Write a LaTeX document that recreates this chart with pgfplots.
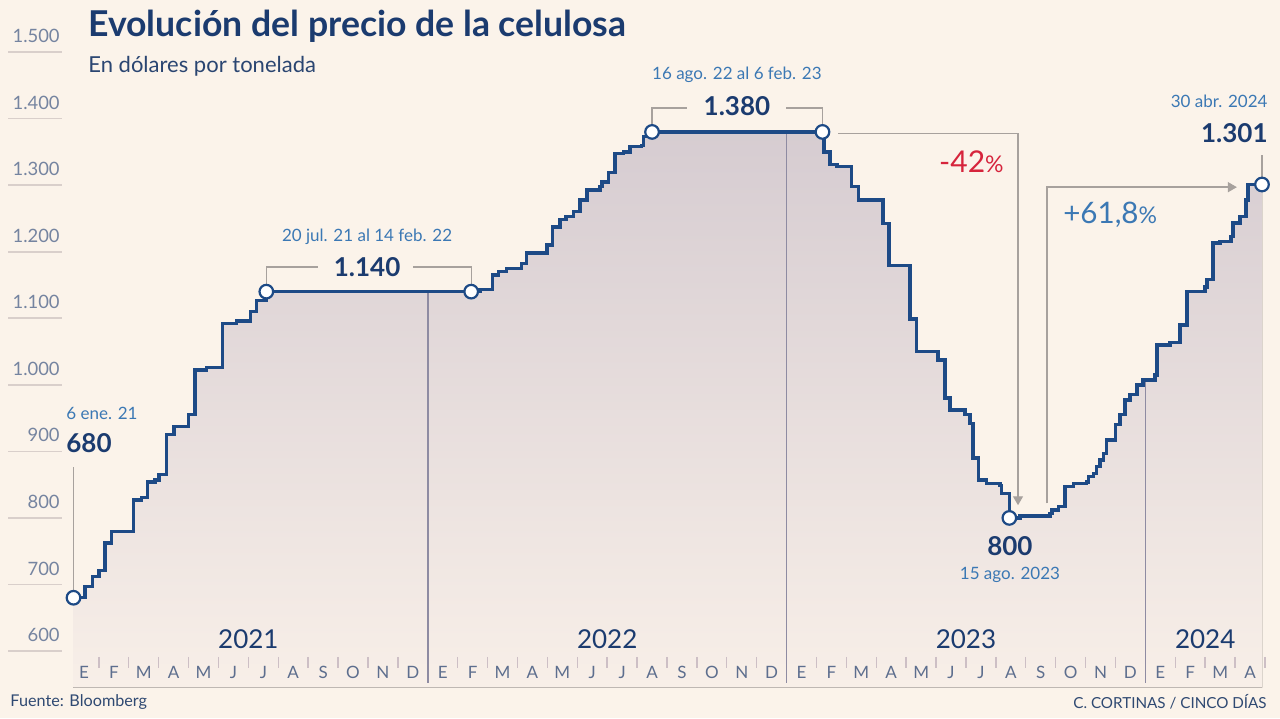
\documentclass[border=0pt]{standalone}
\usepackage{fontspec}
\setmainfont{Lato}
\usepackage{pgfplots}
\usepackage{pgfplotstable}
\pgfplotsset{compat=1.18}
\usepgfplotslibrary{fillbetween}
\usetikzlibrary{arrows.meta}

\definecolor{bgc}{HTML}{FBF3EA}
\definecolor{navy}{HTML}{1B3B6F}
\definecolor{linec}{HTML}{1D4A86}
\definecolor{annb}{HTML}{3B78B4}
\definecolor{tickc}{HTML}{7584A0}
\definecolor{monc}{HTML}{5D6E8E}
\definecolor{grayl}{HTML}{A7A19D}
\definecolor{yearl}{HTML}{8E8BA2}
\definecolor{redc}{HTML}{D6243C}
\definecolor{sepc}{HTML}{CDBFC5}
\definecolor{gridc}{HTML}{D9CFCB}
\definecolor{filltop}{HTML}{D6CCD1}
\definecolor{fillbot}{HTML}{F8EFE8}

\pgfplotstableread{
m v
0.15 680
0.54 697
0.79 712
1.01 721
1.20 762
1.43 780
2.15 827
2.43 831
2.62 854
2.88 857
3.01 865
3.27 925
3.51 937
3.99 955
4.21 1022
4.60 1026
5.13 1092
5.61 1096
6.08 1110
6.28 1127
6.60 1140
13.45 1140
13.75 1143
14.17 1165
14.36 1170
14.64 1175
15.14 1182
15.31 1198
15.98 1210
16.18 1237
16.42 1248
16.62 1253
16.87 1260
17.09 1278
17.33 1293
17.76 1298
17.82 1305
18.04 1319
18.26 1348
18.54 1350
18.76 1358
19.15 1360
19.21 1373
19.50 1380
25.20 1380
25.25 1350
25.45 1331
25.68 1328
26.18 1298
26.40 1278
27.23 1242
27.43 1179
28.13 1099
28.35 1050
29.07 1037
29.30 980
29.46 962
29.97 955
30.13 942
30.24 890
30.41 857
30.69 852
31.14 849
31.19 837
31.45 800
31.81 803
32.81 807
32.87 812
33.09 817
33.31 847
33.59 852
34.03 854
34.09 862
34.26 867
34.37 877
34.48 887
34.59 897
34.70 917
35.00 940
35.15 955
35.32 977
35.48 985
35.72 1000
35.92 1007
36.32 1015
36.39 1060
36.82 1064
37.16 1090
37.39 1140
37.99 1147
38.06 1158
38.26 1213
38.49 1215
38.86 1223
38.93 1243
39.16 1253
39.36 1278
39.43 1301
39.90 1301
}\pricedata

\newcommand\ytk[2]{%
  \draw[gridc, line width=0.8pt] (axis cs:-2.04,#1) -- (axis cs:-0.234,#1);
  \node[anchor=east, inner sep=0pt, text=tickc, font=\fontsize{9.2}{11}\selectfont] at (axis cs:-0.30,#1+24) {#2};
}
\newcommand\mon[2]{%
  \node[inner sep=0pt, text=monc, font=\fontsize{8.5}{10}\selectfont] at (axis cs:#1+0.5,568.4) {#2};
}
\newcommand\yearmonths[1]{%
  \mon{#1+0}{E}\mon{#1+1}{F}\mon{#1+2}{M}\mon{#1+3}{A}\mon{#1+4}{M}\mon{#1+5}{J}%
  \mon{#1+6}{J}\mon{#1+7}{A}\mon{#1+8}{S}\mon{#1+9}{O}\mon{#1+10}{N}\mon{#1+11}{D}%
}

\begin{document}
\begin{tikzpicture}
\fill[bgc] (0,0) rectangle (640pt,359pt);
\begin{axis}[
  at={(0,0)}, anchor=south west,
  width=640pt, height=359pt, scale only axis,
  xmin=-2.3077, xmax=40.502, ymin=499.32, ymax=1578.26,
  hide axis, clip=false,
]

% area under the curve
\addplot[draw=none, const plot, name path=price, forget plot] table[x=m, y=v] {\pricedata};
\addplot[draw=none, name path=base, forget plot] coordinates {(0.15,545) (39.90,545)};
\addplot[top color=filltop, bottom color=fillbot, draw=none, forget plot] fill between[of=price and base, on layer=main];

% year separators
\addplot[yearl, line width=0.8pt, forget plot] coordinates {(12,552) (12,1140)};
\addplot[yearl, line width=0.8pt, forget plot] coordinates {(24,552) (24,1380)};
\addplot[yearl, line width=0.8pt, forget plot] coordinates {(36,552) (36,1007)};

% y labels
\ytk{600}{600}
\ytk{700}{700}
\ytk{800}{800}
\ytk{900}{900}
\ytk{1000}{1.000}
\ytk{1100}{1.100}
\ytk{1200}{1.200}
\ytk{1300}{1.300}
\ytk{1400}{1.400}
\ytk{1500}{1.500}

% month separators
\pgfplotsinvokeforeach{1,...,11,13,14,...,23,25,26,...,35,37,38,39,40}{
  \draw[sepc, line width=0.7pt] (axis cs:#1,591) -- (axis cs:#1,574.5);
}
\yearmonths{0}
\yearmonths{12}
\yearmonths{24}
\mon{36}{E}\mon{37}{F}\mon{38}{M}\mon{39}{A}

% year labels
\node[text=navy, inner sep=0pt, font=\fontsize{13}{15}\selectfont] at (axis cs:6,618) {2021};
\node[text=navy, inner sep=0pt, font=\fontsize{13}{15}\selectfont] at (axis cs:18,618) {2022};
\node[text=navy, inner sep=0pt, font=\fontsize{13}{15}\selectfont] at (axis cs:30,618) {2023};
\node[text=navy, inner sep=0pt, font=\fontsize{13}{15}\selectfont] at (axis cs:38,618) {2024};

% title
\node[anchor=west, inner sep=0pt, text=navy, font=\fontsize{17.8}{20}\bfseries] at (axis cs:0.635,1539) {Evolución del precio de la celulosa};
\node[anchor=west, inner sep=0pt, text=navy!85!gray, font=\fontsize{11}{13}\selectfont] at (axis cs:0.635,1478) {En dólares por tonelada};

% annotation guides
\draw[grayl, line width=0.6pt] (axis cs:0.15,876) -- (axis cs:0.15,692);
\draw[grayl, line width=0.6pt] (axis cs:6.6,1150) |- (axis cs:8.33,1177);
\draw[grayl, line width=0.6pt] (axis cs:13.45,1150) |- (axis cs:11.5,1177);
\draw[grayl, line width=0.6pt] (axis cs:19.5,1388) |- (axis cs:20.67,1416);
\draw[grayl, line width=0.6pt] (axis cs:25.2,1388) |- (axis cs:23.98,1416);
\draw[grayl, line width=0.6pt] (axis cs:39.9,1345) -- (axis cs:39.9,1312);
\draw[grayl, line width=0.7pt, -{Triangle[width=5pt,length=4.5pt]}] (axis cs:25.72,1378) -| (axis cs:31.74,819);
\draw[grayl, line width=0.7pt, -{Triangle[width=5pt,length=4.5pt]}] (axis cs:32.71,822) |- (axis cs:39.06,1297);

% price line
\addplot[linec, line width=1.7pt, const plot, forget plot] table[x=m, y=v] {\pricedata};
\addplot[only marks, mark=*, mark size=3.4pt, mark options={fill=white, draw=linec, line width=1.1pt}, forget plot]
  coordinates {(0.15,680) (6.6,1140) (13.45,1140) (19.5,1380) (25.2,1380) (31.45,800) (39.9,1301)};

% annotation texts
\node[anchor=west, inner sep=0pt, text=annb, font=\fontsize{8.5}{10}\selectfont] at (axis cs:-0.10,957) {6 ene. 21};
\node[anchor=west, inner sep=0pt, text=navy, font=\fontsize{13}{15}\bfseries] at (axis cs:-0.10,912) {680};
\node[inner sep=0pt, text=annb, font=\fontsize{8.5}{10}\selectfont] at (axis cs:9.97,1222) {20 jul. 21 al 14 feb. 22};
\node[inner sep=0pt, text=navy, font=\fontsize{13}{15}\bfseries] at (axis cs:9.97,1177) {1.140};
\node[inner sep=0pt, text=annb, font=\fontsize{8.5}{10}\selectfont] at (axis cs:22.34,1466) {16 ago. 22 al 6 feb. 23};
\node[inner sep=0pt, text=navy, font=\fontsize{13}{15}\bfseries] at (axis cs:22.34,1419) {1.380};
\node[anchor=east, inner sep=0pt, text=redc, font=\fontsize{15}{18}\selectfont] at (axis cs:31.27,1335) {-42{\fontsize{11.5}{13}\selectfont\%}};
\node[anchor=west, inner sep=0pt, text=annb, font=\fontsize{14.8}{18}\selectfont] at (axis cs:33.24,1255) {+61,8{\fontsize{11.5}{13}\selectfont\%}};
\node[inner sep=0pt, text=navy, font=\fontsize{13}{15}\bfseries] at (axis cs:31.47,758) {800};
\node[inner sep=0pt, text=annb, font=\fontsize{8.5}{10}\selectfont] at (axis cs:31.47,714) {15 ago. 2023};
\node[anchor=east, inner sep=0pt, text=annb, font=\fontsize{8.5}{10}\selectfont] at (axis cs:40.1,1426) {30 abr. 2024};
\node[anchor=east, inner sep=0pt, text=navy, font=\fontsize{13}{15}\bfseries] at (axis cs:40.1,1378) {1.301};

% source lines
\node[anchor=west, inner sep=0pt, text=navy!80!gray, font=\fontsize{8.1}{9}\selectfont] at (axis cs:-1.97,523) {Fuente: Bloomberg};
\node[anchor=east, inner sep=0pt, text=navy!80!gray, font=\fontsize{7.6}{9}\selectfont] at (axis cs:40.07,523) {C. CORTINAS / CINCO DÍAS};
\end{axis}
\end{tikzpicture}
\end{document}
